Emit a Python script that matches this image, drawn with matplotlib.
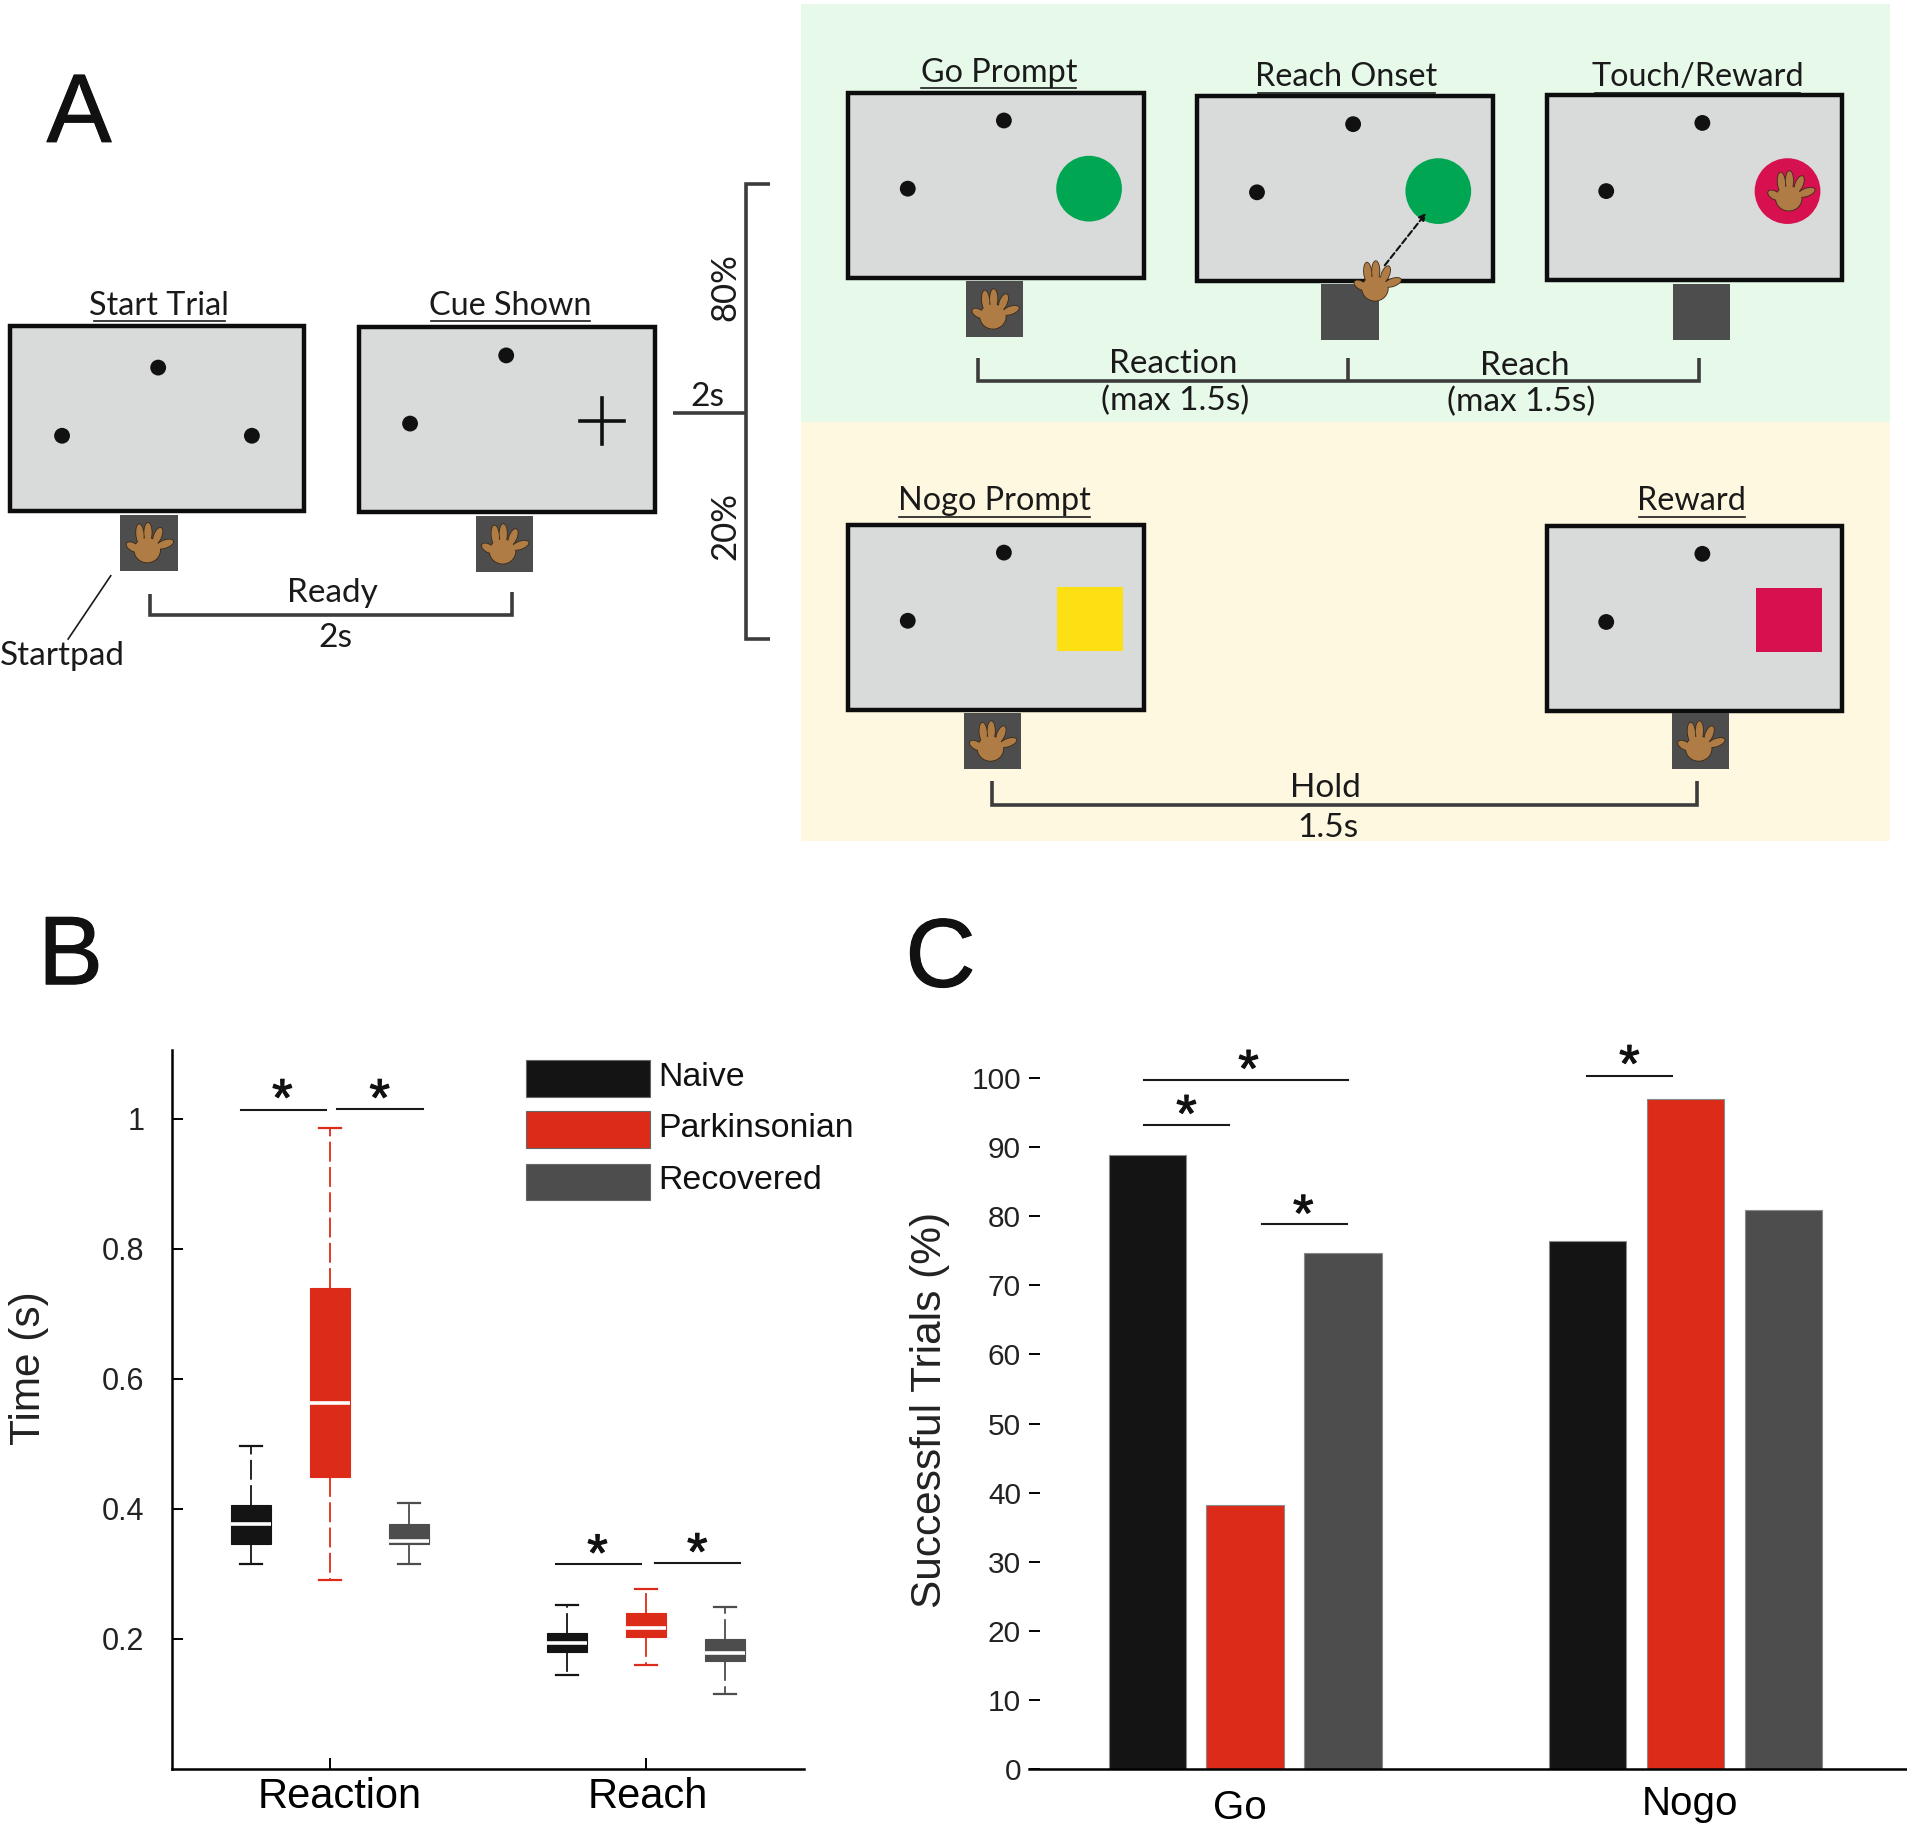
import matplotlib
matplotlib.use('Agg')
import matplotlib.pyplot as plt
import matplotlib.patches as mpatches
import matplotlib.patheffects as pe
from matplotlib.transforms import ScaledTranslation

NARROW = ['Lato', 'Liberation Sans']
plt.rcParams['font.family'] = ['Liberation Sans', 'DejaVu Sans']

NEGRO = '#141414'
ROJO = '#dc2b19'
GRIS = '#4d4d4d'
COLORES = [NEGRO, ROJO, GRIS]
GRUPOS = ['Naive', 'Parkinsonian', 'Recovered']

# PANEL B - boxplots (whislo, q1, med, q3, whishi)
REACCION_CAT = ['Reaction', 'Reach']
BOX_REACTION = [
    (0.315, 0.346, 0.376, 0.406, 0.497),
    (0.290, 0.449, 0.562, 0.740, 0.985),
    (0.315, 0.345, 0.350, 0.376, 0.408),
]
BOX_REACH = [
    (0.144, 0.180, 0.193, 0.208, 0.251),
    (0.159, 0.202, 0.217, 0.240, 0.277),
    (0.114, 0.165, 0.178, 0.200, 0.249),
]
TICKS_B = [0.2, 0.4, 0.6, 0.8, 1.0]
TICKS_B_TXT = ['0.2', '0.4', '0.6', '0.8', '1']

# PANEL C - barras
CONDICIONES = ['Go', 'Nogo']
EXITO_GO = [88.9, 38.2, 74.7]
EXITO_NOGO = [76.4, 97.0, 80.9]

# ESQUEMA (coordenadas de la figura reducida a 1568 x 1501)
PANTALLAS = [(8, 250, 268, 420), (295, 538, 269, 421), (697, 940, 76, 228),
             (984, 1227, 79, 231), (1271, 1514, 78, 230),
             (697, 940, 431, 583), (1271, 1514, 432, 584)]
PUNTOS = [(130, 302), (51, 358), (207, 358), (416, 292), (337, 348),
          (825, 99), (746, 155), (1112, 102), (1033, 158), (1399, 101),
          (1320, 157), (825, 454), (746, 510), (1399, 455), (1320, 511)]
PADS = [(99, 423), (391, 424), (794, 231), (1086, 233), (1375, 233),
        (792, 586), (1374, 586)]
MANOS = [(120, 451), (412, 452), (815, 259), (1129, 236), (1469, 162),
         (813, 614), (1395, 614)]
TITULOS = [('Start Trial', 131, 251, 77, 185, 264), ('Cue Shown', 419, 251, 354, 485, 264),
           ('Go Prompt', 821, 60, 757, 884, 72), ('Reach Onset', 1106, 63, 1034, 1179, 76),
           ('Touch/Reward', 1395, 63, 1311, 1479, 76), ('Nogo Prompt', 817, 412, 739, 896, 425),
           ('Reward', 1390, 412, 1347, 1434, 425)]
ETIQUETAS = [('Ready', 273, 487), ('2s', 276, 524), ('Startpad', 51, 539), ('2s', 581, 326),
             ('Reaction', 964, 299), ('Reach', 1253, 301), ('(max 1.5s)', 966, 329),
             ('(max 1.5s)', 1250, 330), ('Hold', 1089, 647), ('1.5s', 1091, 680)]
TRAZOS = [[(123, 488), (123, 505), (421, 505), (421, 486)],
          [(553, 339), (613, 339)],
          [(633, 151), (613, 151), (613, 525), (633, 525)],
          [(804, 294), (804, 313), (1396, 313), (1396, 294)],
          [(1108, 294), (1108, 313)],
          [(815, 642), (815, 661), (1395, 661), (1395, 642)]]
# lineas de significancia y asteriscos
SIG_LINEAS = [(198, 268, 912), (277, 348, 911), (457, 527, 1285), (538, 608, 1284),
              (940, 1108, 887), (940, 1010, 924), (1037, 1107, 1006), (1304, 1374, 884)]
SIG_STAR = [(232, 897), (312, 897), (491, 1271), (573, 1270),
            (1026, 873), (975, 910), (1071, 992), (1339, 869)]


def xy(p):
    return [q[0] for q in p], [q[1] for q in p]


def mano(ax, cx, cy, z=6):
    # palma + dedos, primero el contorno y despues el relleno
    dedos = [(-5, -12, 6, 16.5, -5), (1.6, -13.4, 6, 16, 0), (9.6, -10.7, 6, 14, 22),
             (15.6, -4, 6, 14, 70), (-10.7, -1.6, 6, 11.5, -60)]
    for capa, (col, extra) in enumerate([('#3a2a18', 1.4), ('#b07c45', 0)]):
        for dx, dy, w, h, ang in dedos:
            ax.add_patch(mpatches.Ellipse((cx + dx, cy + dy), w + extra, h + extra, angle=ang,
                                          fc=col, ec='none', zorder=z + capa))
        ax.add_patch(mpatches.Ellipse((cx + 1, cy + 1), 21 + extra, 20 + extra, fc=col, ec='none', zorder=z + capa))


fig = plt.figure(figsize=(19.08, 18.27), dpi=100)
W, H = 1568.0, 1501.0

# ESQUEMA Y TEXTOS
ov = fig.add_axes([0, 0, 1, 1], zorder=5)
ov.set_xlim(0, W)
ov.set_ylim(H, 0)
ov.axis('off')
ov.patch.set_alpha(0)

ov.add_patch(mpatches.Rectangle((658, 3), 895, 344, fc='#e7faea', ec='none', zorder=0))
ov.add_patch(mpatches.Rectangle((658, 347), 895, 344, fc='#fef8e0', ec='none', zorder=0))

for x0, x1, y0, y1 in PANTALLAS:
    ov.add_patch(mpatches.Rectangle((x0, y0), x1 - x0, y1 - y0, fc='#d9dada', ec='#0d0d0d', lw=3.2, zorder=2))
for x, y in PADS:
    ov.add_patch(mpatches.Rectangle((x, y), 47, 46, fc=GRIS, ec='none', zorder=3))
for x, y in PUNTOS:
    ov.add_patch(mpatches.Circle((x, y), 6.5, fc='#111111', ec='none', zorder=3))

ov.add_patch(mpatches.Circle((895, 155), 27, fc='#00a651', ec='none', zorder=3))
ov.add_patch(mpatches.Circle((1182, 157), 27, fc='#00a651', ec='none', zorder=3))
ov.add_patch(mpatches.Circle((1469, 157), 27, fc='#d7104f', ec='none', zorder=3))
ov.add_patch(mpatches.Rectangle((869, 482), 54, 53, fc='#fde014', ec='none', zorder=3))
ov.add_patch(mpatches.Rectangle((1443, 483), 54, 53, fc='#d7104f', ec='none', zorder=3))
ov.plot([477, 513], [346, 346], color='#111111', lw=2.6, zorder=3)
ov.plot([495, 495], [327, 365], color='#111111', lw=2.6, zorder=3)

for x, y in MANOS:
    mano(ov, x, y)

ov.annotate('', xy=(1172, 175), xytext=(1138, 218), zorder=5,
            arrowprops=dict(arrowstyle='-|>', color='#111111', lw=1.5, linestyle=(0, (3, 1.5)), shrinkA=0, shrinkB=0))

for t in TRAZOS:
    xs, ys = xy(t)
    ov.plot(xs, ys, color='#3c3c3c', lw=2.6, solid_joinstyle='miter', solid_capstyle='butt', zorder=3)
ov.plot([91, 56], [473, 525], color='#1a1a1a', lw=1.2, zorder=3)

for txt, xc, yc, x0, x1, yl in TITULOS:
    ov.text(xc, yc, txt, ha='center', va='center', fontsize=23.3, family=NARROW, color='#1a1a1a', zorder=6)
    ov.plot([x0, x1], [yl, yl], color='#1a1a1a', lw=1.2, zorder=6)
for txt, xc, yc in ETIQUETAS:
    ov.text(xc, yc, txt, ha='center', va='center', fontsize=24, family=NARROW, color='#1a1a1a', zorder=6)
ov.text(596, 236, '80%', rotation=90, ha='center', va='center', fontsize=25, family=NARROW, color='#1a1a1a')
ov.text(596, 432, '20%', rotation=90, ha='center', va='center', fontsize=25, family=NARROW, color='#1a1a1a')

trazo = [pe.withStroke(linewidth=0.8, foreground='#111111')]
ov.text(65, 96, 'A', ha='center', va='center', fontsize=70, color='#111111', path_effects=trazo)
ov.text(58, 788, 'B', ha='center', va='center', fontsize=70, color='#111111', path_effects=trazo)
ov.text(773, 790, 'C', ha='center', va='center', fontsize=70, color='#111111', path_effects=trazo)

for x0, x1, y in SIG_LINEAS:
    ov.plot([x0, x1], [y, y], color='#1a1a1a', lw=1.5, zorder=6)
for x, y in SIG_STAR:
    ov.text(x, y + 8, '*', ha='center', va='center', fontsize=38, color='#111111', zorder=6,
            path_effects=[pe.withStroke(linewidth=0.8, foreground='#111111')])

# leyenda del panel B
for col, nombre, y in zip(COLORES, GRUPOS, [871, 913, 956]):
    ov.add_patch(mpatches.Rectangle((432, y), 102, 30, fc=col, ec='#666666', lw=0.8, zorder=3))
    ov.text(541, y + 14, nombre, ha='left', va='center', fontsize=24.4, color='#111111')

# PANEL B
axb = fig.add_axes([141 / W, (H - 1453) / H, (661 - 141) / W, (1453 - 863) / H])
axb.set_xlim(0.5, 2.5)
axb.set_ylim(0, 1.105)
for centro, cajas in zip([1, 2], [BOX_REACTION, BOX_REACH]):
    for i, (caja, col) in enumerate(zip(cajas, COLORES)):
        st = dict(whislo=caja[0], q1=caja[1], med=caja[2], q3=caja[3], whishi=caja[4], fliers=[])
        axb.bxp([st], positions=[centro + (i - 1) * 0.25], widths=0.127, capwidths=0.07,
                patch_artist=True, showfliers=False, manage_ticks=False,
                boxprops=dict(facecolor=col, edgecolor=col, linewidth=0.8),
                medianprops=dict(color='white', linewidth=2.6, solid_capstyle='butt'),
                whiskerprops=dict(color=col, linewidth=1.3, linestyle=(0, (11, 3))),
                capprops=dict(color=col, linewidth=1.6))
axb.set_xticks([1, 2])
axb.set_xticklabels(REACCION_CAT, fontsize=30)
axb.set_yticks(TICKS_B)
axb.set_yticklabels(TICKS_B_TXT, fontsize=22, color='#222222')
axb.tick_params(axis='both', direction='in', length=8, width=1.4)
axb.tick_params(axis='y', pad=19.5)
axb.tick_params(axis='x', pad=6)
axb.spines['top'].set_visible(False)
axb.spines['right'].set_visible(False)
axb.spines['left'].set_linewidth(1.8)
axb.spines['bottom'].set_linewidth(1.8)
axb.set_ylabel('Time (s)', fontsize=30.5, color='#222222')
axb.yaxis.set_label_coords((40 - 141) / 520.0, 0.558)
for lab, dx in zip(axb.get_xticklabels(), [8, 1]):
    lab.set_transform(lab.get_transform() + ScaledTranslation(dx * 1.2168 / 100, 0, fig.dpi_scale_trans))

# PANEL C
axc = fig.add_axes([846 / W, (H - 1453) / H, (1567 - 846) / W, (1453 - 886) / H])
axc.set_xlim(0.508, 2.5)
axc.set_ylim(0, 100)
for i, col in enumerate(COLORES):
    axc.bar([1 + (i - 1) * 0.2224 - 0.002, 2 + (i - 1) * 0.2224 - 0.002], [EXITO_GO[i], EXITO_NOGO[i]], width=0.176,
            color=col, edgecolor='#8a8a8a', linewidth=0.8, zorder=2)
axc.set_xticks([1, 2])
axc.set_xticklabels(CONDICIONES, fontsize=29)
axc.set_yticks(range(0, 101, 10))
axc.tick_params(axis='y', direction='in', length=8, width=1.4, labelsize=21.5, pad=6, labelcolor='#222222')
axc.tick_params(axis='x', direction='in', length=8, width=1.4, pad=12)
for s in ['top', 'right', 'left']:
    axc.spines[s].set_visible(False)
axc.spines['bottom'].set_linewidth(1.8)
axc.set_ylabel('Successful Trials (%)', fontsize=30.5, color='#222222')
axc.yaxis.set_label_coords((781 - 846) / 721.0, 0.52)
for lab, dx, dy in zip(axc.get_xticklabels(), [-5, 3], [-3, 0]):
    lab.set_transform(lab.get_transform() + ScaledTranslation(dx * 1.2168 / 100, dy * 1.2168 / 100, fig.dpi_scale_trans))

fig.savefig('out.png', dpi=100)
